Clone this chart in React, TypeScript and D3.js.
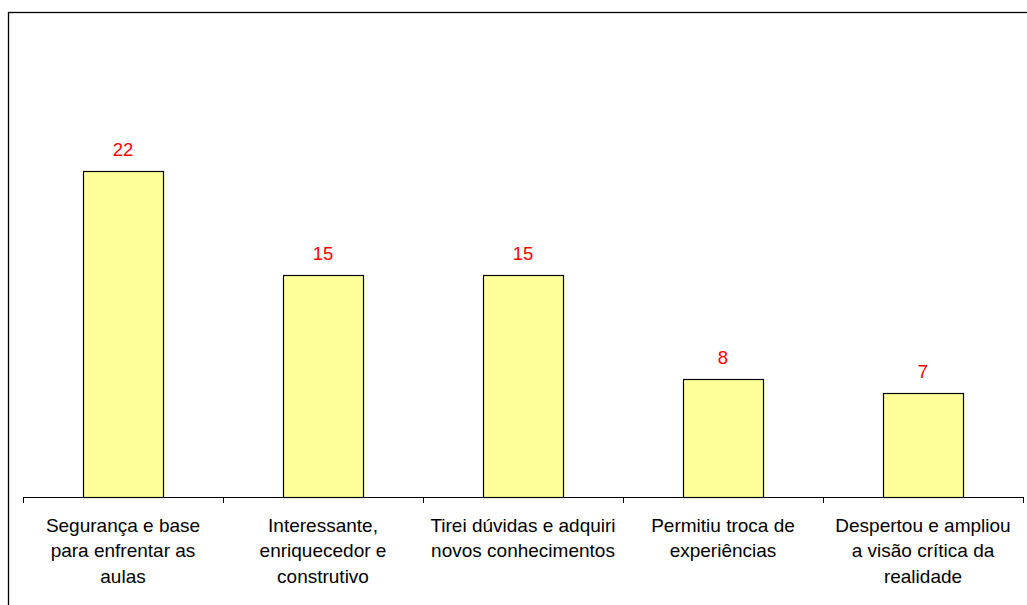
import React from "react";
import * as d3 from "d3";

const categories: string[][] = [
  ["Segurança e base", "para enfrentar as", "aulas"],
  ["Interessante,", "enriquecedor e", "construtivo"],
  ["Tirei dúvidas e adquiri", "novos conhecimentos"],
  ["Permitiu troca de", "experiências"],
  ["Despertou e ampliou", "a visão crítica da", "realidade"],
];
const values: number[] = [22, 15, 15, 8, 7];
const yMax = 25;

const W = 1027;
const H = 605;
const baseY = 497;
const plotLeft = 23;
const plotRight = 1023;
const font = "'Liberation Sans', Arial, sans-serif";

export default function App() {
  const keys = categories.map((c, i) => String(i));
  const x = d3
    .scaleBand<string>()
    .domain(keys)
    .range([plotLeft, plotRight])
    .paddingInner(0.6)
    .paddingOuter(0.3);
  const y = d3.scaleLinear().domain([0, yMax]).range([baseY, 127]);
  const step = x.step();
  const bounds = d3.range(keys.length + 1).map((i) => plotLeft + i * step);

  return (
    <svg
      width={W}
      height={H}
      style={{ position: "absolute", left: 0, top: 0, background: "#fff" }}
    >
      <rect x={8.5} y={12.5} width={1040} height={620} fill="#fff" stroke="#000" strokeWidth={1.3} />
      {values.map((v, i) => (
        <rect
          key={"b" + i}
          x={x(String(i))! + 0.5}
          y={Math.round(y(v)) + 0.5}
          width={x.bandwidth()}
          height={baseY - Math.round(y(v))}
          fill="#FFFF99"
          stroke="#000"
          strokeWidth={1.2}
        />
      ))}
      <line x1={plotLeft} x2={plotRight} y1={baseY + 0.5} y2={baseY + 0.5} stroke="#000" strokeWidth={1} />
      {bounds.map((bx, i) => (
        <line key={"t" + i} x1={bx + 0.5} x2={bx + 0.5} y1={baseY} y2={baseY + 6} stroke="#000" strokeWidth={1} />
      ))}
      {values.map((v, i) => (
        <text
          key={"v" + i}
          x={x(String(i))! + x.bandwidth() / 2}
          y={Math.round(y(v)) - 15}
          textAnchor="middle"
          fontFamily={font}
          fontSize={18.5}
          fill="#FF0000"
        >
          {v}
        </text>
      ))}
      {categories.map((lines, i) => (
        <text
          key={"c" + i}
          x={x(String(i))! + x.bandwidth() / 2}
          y={baseY + 34.5}
          textAnchor="middle"
          fontFamily={font}
          fontSize={19}
          fill="#000"
        >
          {lines.map((l, j) => (
            <tspan key={j} x={x(String(i))! + x.bandwidth() / 2} dy={j === 0 ? 0 : 25.5}>
              {l}
            </tspan>
          ))}
        </text>
      ))}
    </svg>
  );
}
